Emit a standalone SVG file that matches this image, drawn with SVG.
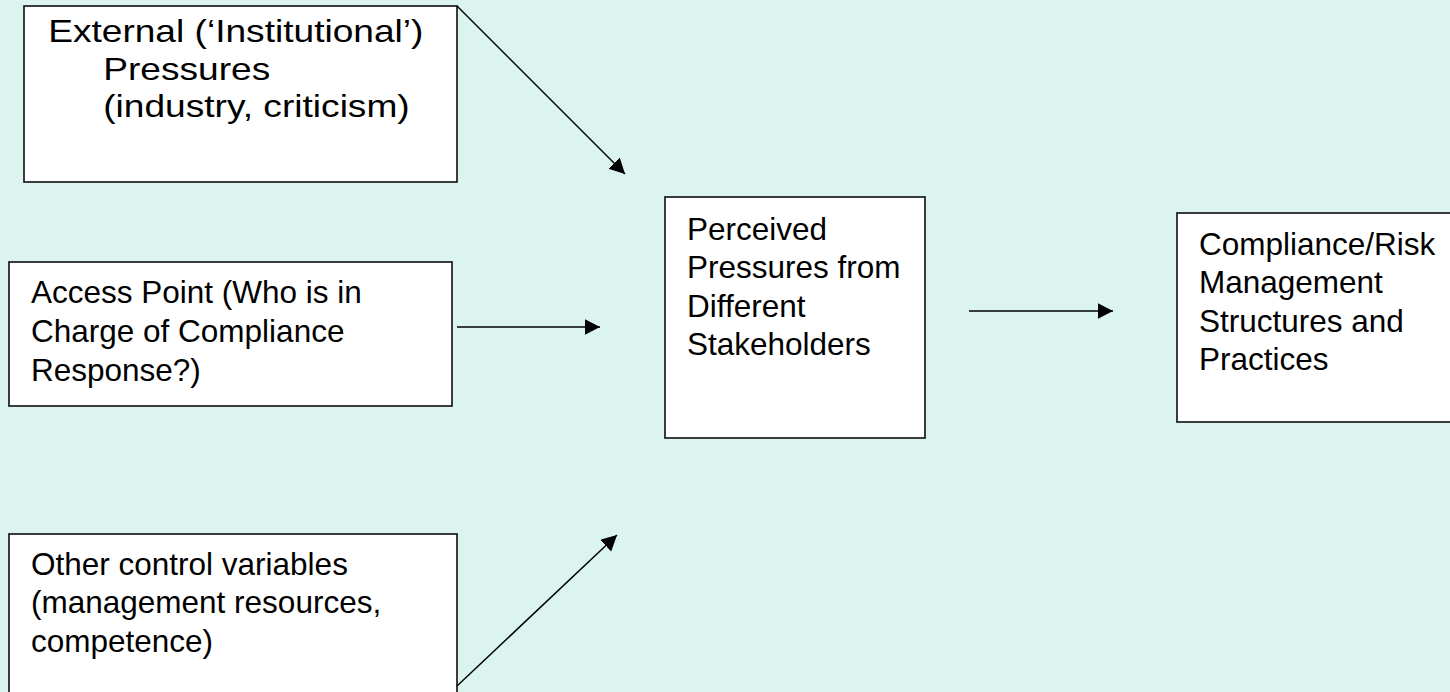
<svg xmlns="http://www.w3.org/2000/svg" width="1450" height="692" viewBox="0 0 1450 692">
<defs>
<style>
.box{fill:#ffffff;stroke:#1a1a1a;stroke-width:1.7}
.t{font-family:"Liberation Sans",Arial,sans-serif;font-size:31.5px;fill:#000}
.t1{font-family:"Liberation Sans",Arial,sans-serif;font-size:32px;fill:#000}
.c{stroke:#000;stroke-width:1.5;fill:none;marker-end:url(#ah)}
</style>
<marker id="ah" markerUnits="userSpaceOnUse" markerWidth="17" markerHeight="17" refX="15.5" refY="8" orient="auto">
<path d="M0,0 L15.5,8 L0,16 z" fill="#000"/>
</marker>
</defs>
<rect x="0" y="0" width="1450" height="692" fill="#dbf4f0"/>
<g id="external">
<rect class="box" x="24" y="6" width="433" height="176"/>
<g transform="scale(1.16,1)">
<text class="t1"><tspan x="41.5" y="42">External (‘Institutional’)</tspan><tspan x="89" y="80">Pressures</tspan><tspan x="89" y="117">(industry, criticism)</tspan></text>
</g>
</g>
<g id="access">
<rect class="box" x="9" y="262" width="443" height="144"/>
<text class="t"><tspan x="31" y="303">Access Point (Who is in</tspan><tspan x="31" y="342">Charge of Compliance</tspan><tspan x="31" y="381">Response?)</tspan></text>
</g>
<g id="other">
<rect class="box" x="9" y="534" width="448" height="170"/>
<text class="t"><tspan x="31" y="575">Other control variables</tspan><tspan x="31" y="613">(management resources,</tspan><tspan x="31" y="652">competence)</tspan></text>
</g>
<g id="perceived">
<rect class="box" x="665" y="197" width="260" height="241"/>
<text class="t"><tspan x="687" y="240">Perceived</tspan><tspan x="687" y="278">Pressures from</tspan><tspan x="687" y="317">Different</tspan><tspan x="687" y="355">Stakeholders</tspan></text>
</g>
<g id="compliance">
<rect class="box" x="1177" y="213" width="290" height="209"/>
<text class="t"><tspan x="1199" y="255">Compliance/Risk</tspan><tspan x="1199" y="293">Management</tspan><tspan x="1199" y="332">Structures and</tspan><tspan x="1199" y="370">Practices</tspan></text>
</g>
<g id="connectors">
<line class="c" x1="457" y1="6" x2="625" y2="174"/>
<line class="c" x1="457" y1="327" x2="600" y2="327"/>
<line class="c" x1="969" y1="311" x2="1113" y2="311"/>
<line class="c" x1="457" y1="686" x2="617" y2="535"/>
</g>
</svg>
